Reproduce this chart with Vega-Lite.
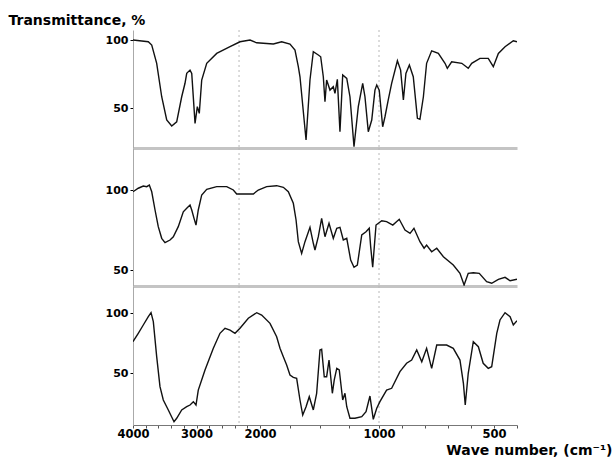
{
  "$schema": "https://vega.github.io/schema/vega-lite/v6.json",
  "padding": {"left": 8, "top": 13, "right": 2, "bottom": 2},
  "background": "white",
  "config": {"view": {"stroke": null}, "axis": {"grid": false}},
  "datasets": {
    "grid": [{"wn": 2330}, {"wn": 1000}],
    "s1": [
      {"wn": 4000, "t": 100}, {"wn": 3759, "t": 98.75}, {"wn": 3705, "t": 96.3}, {"wn": 3627, "t": 82.9}, {"wn": 3548, "t": 58.3}, {"wn": 3469, "t": 41.2}, {"wn": 3390, "t": 36.8}, {"wn": 3312, "t": 39.9}, {"wn": 3233, "t": 58.3}, {"wn": 3181, "t": 68.2}, {"wn": 3154, "t": 75.5}, {"wn": 3102, "t": 77.9}, {"wn": 3075, "t": 75.5}, {"wn": 3023, "t": 38.7}, {"wn": 2987, "t": 51.0}, {"wn": 2956, "t": 46.1}, {"wn": 2918, "t": 70.6}, {"wn": 2839, "t": 82.9}, {"wn": 2682, "t": 90.2}, {"wn": 2472, "t": 95.1}, {"wn": 2315, "t": 98.75}, {"wn": 2157, "t": 100}, {"wn": 2052, "t": 98.0},
      {"wn": 1888, "t": 97.1}, {"wn": 1818, "t": 98.75}, {"wn": 1748, "t": 97.1}, {"wn": 1706, "t": 92.6}, {"wn": 1678, "t": 80.4}, {"wn": 1664, "t": 73.0}, {"wn": 1613, "t": 26.5}, {"wn": 1580, "t": 70.6}, {"wn": 1552, "t": 91.4}, {"wn": 1510, "t": 89.0}, {"wn": 1490, "t": 87.7}, {"wn": 1468, "t": 73.0}, {"wn": 1454, "t": 54.6}, {"wn": 1440, "t": 70.6}, {"wn": 1412, "t": 63.2}, {"wn": 1384, "t": 65.7}, {"wn": 1370, "t": 60.8}, {"wn": 1350, "t": 71.1}, {"wn": 1328, "t": 32.6}, {"wn": 1305, "t": 74.3}, {"wn": 1271, "t": 71.8}, {"wn": 1244, "t": 58.3}, {"wn": 1210, "t": 21.5}, {"wn": 1174, "t": 51.0}, {"wn": 1137, "t": 68.2}, {"wn": 1118, "t": 58.3}, {"wn": 1090, "t": 32.6}, {"wn": 1061, "t": 41.2}, {"wn": 1034, "t": 63.2}, {"wn": 1019, "t": 66.9},
      {"wn": 999, "t": 63.2}, {"wn": 984, "t": 36.2}, {"wn": 974, "t": 43.6}, {"wn": 960, "t": 55.9}, {"wn": 945, "t": 68.2}, {"wn": 920, "t": 84.8}, {"wn": 906, "t": 77.9}, {"wn": 894, "t": 55.9}, {"wn": 883, "t": 75.5}, {"wn": 868, "t": 81.6}, {"wn": 851, "t": 73.0}, {"wn": 833, "t": 42.4}, {"wn": 822, "t": 41.7}, {"wn": 807, "t": 58.3}, {"wn": 793, "t": 82.9}, {"wn": 771, "t": 92.1}, {"wn": 742, "t": 90.2}, {"wn": 713, "t": 82.9}, {"wn": 703, "t": 79.2}, {"wn": 684, "t": 84.0}, {"wn": 640, "t": 82.9}, {"wn": 612, "t": 79.2}, {"wn": 597, "t": 82.9}, {"wn": 561, "t": 86.5}, {"wn": 525, "t": 86.5}, {"wn": 503, "t": 80.4}, {"wn": 481, "t": 90.2}, {"wn": 452, "t": 95.1}, {"wn": 416, "t": 99.5}, {"wn": 400, "t": 98.75}
    ],
    "s2": [
      {"wn": 4000, "t": 98.9}, {"wn": 3917, "t": 101.1}, {"wn": 3838, "t": 102.5}, {"wn": 3784, "t": 102.1}, {"wn": 3743, "t": 103.1}, {"wn": 3705, "t": 98.9}, {"wn": 3653, "t": 87.5}, {"wn": 3602, "t": 77.1}, {"wn": 3548, "t": 69.8}, {"wn": 3496, "t": 67.1}, {"wn": 3417, "t": 68.75}, {"wn": 3365, "t": 70.8}, {"wn": 3287, "t": 77.1}, {"wn": 3208, "t": 86.4}, {"wn": 3154, "t": 88.6}, {"wn": 3102, "t": 90.6}, {"wn": 3075, "t": 87.5}, {"wn": 3039, "t": 82.3}, {"wn": 3008, "t": 78.1}, {"wn": 2972, "t": 87.5}, {"wn": 2918, "t": 96.9}, {"wn": 2839, "t": 100.4}, {"wn": 2682, "t": 102.1}, {"wn": 2524, "t": 102.1}, {"wn": 2420, "t": 100}, {"wn": 2367, "t": 97.5}, {"wn": 2105, "t": 97.5}, {"wn": 2027, "t": 100},
      {"wn": 1944, "t": 102.1}, {"wn": 1860, "t": 102.7}, {"wn": 1804, "t": 101.7}, {"wn": 1762, "t": 98.9}, {"wn": 1720, "t": 91.7}, {"wn": 1697, "t": 81.25}, {"wn": 1678, "t": 67.7}, {"wn": 1650, "t": 60.4}, {"wn": 1622, "t": 67.7}, {"wn": 1580, "t": 76.7}, {"wn": 1552, "t": 66.7}, {"wn": 1538, "t": 62.5}, {"wn": 1510, "t": 70.8}, {"wn": 1482, "t": 82.3}, {"wn": 1454, "t": 70.8}, {"wn": 1420, "t": 79.2}, {"wn": 1384, "t": 69.8}, {"wn": 1355, "t": 76.1}, {"wn": 1328, "t": 76.7}, {"wn": 1300, "t": 68.75}, {"wn": 1271, "t": 69.8}, {"wn": 1238, "t": 56.25}, {"wn": 1210, "t": 51.7}, {"wn": 1182, "t": 53.1}, {"wn": 1145, "t": 71.9}, {"wn": 1109, "t": 73.9}, {"wn": 1082, "t": 76.1}, {"wn": 1070, "t": 64.6}, {"wn": 1053, "t": 51.7}, {"wn": 1025, "t": 78.1},
      {"wn": 988, "t": 80.8}, {"wn": 967, "t": 80.2}, {"wn": 940, "t": 78.1}, {"wn": 912, "t": 81.7}, {"wn": 887, "t": 75}, {"wn": 865, "t": 72.9}, {"wn": 848, "t": 76.1}, {"wn": 822, "t": 67.7}, {"wn": 804, "t": 63.6}, {"wn": 793, "t": 65.6}, {"wn": 771, "t": 61.4}, {"wn": 749, "t": 63.6}, {"wn": 720, "t": 58.3}, {"wn": 677, "t": 53.1}, {"wn": 648, "t": 47.9}, {"wn": 630, "t": 40.6}, {"wn": 612, "t": 47.9}, {"wn": 590, "t": 48.3}, {"wn": 564, "t": 47.9}, {"wn": 532, "t": 42.7}, {"wn": 510, "t": 41.7}, {"wn": 481, "t": 44.2}, {"wn": 452, "t": 45.4}, {"wn": 430, "t": 43.3}, {"wn": 400, "t": 44.2}
    ],
    "s3": [
      {"wn": 4000, "t": 76.1}, {"wn": 3917, "t": 83.1}, {"wn": 3838, "t": 90}, {"wn": 3759, "t": 96.9}, {"wn": 3716, "t": 100.25}, {"wn": 3680, "t": 92.75}, {"wn": 3627, "t": 63.6}, {"wn": 3575, "t": 38.6}, {"wn": 3523, "t": 27.5}, {"wn": 3444, "t": 19.2}, {"wn": 3354, "t": 9.4}, {"wn": 3312, "t": 12.25}, {"wn": 3233, "t": 19.2}, {"wn": 3154, "t": 21.9}, {"wn": 3102, "t": 23.3}, {"wn": 3050, "t": 26.1}, {"wn": 3008, "t": 23.3}, {"wn": 2972, "t": 35.8}, {"wn": 2866, "t": 52.5}, {"wn": 2735, "t": 70.6}, {"wn": 2630, "t": 83.1}, {"wn": 2551, "t": 87.25}, {"wn": 2472, "t": 85.8}, {"wn": 2394, "t": 83.1}, {"wn": 2315, "t": 87.25}, {"wn": 2184, "t": 95.6}, {"wn": 2052, "t": 100.25},
      {"wn": 1986, "t": 98.3}, {"wn": 1916, "t": 91.4}, {"wn": 1860, "t": 80.25}, {"wn": 1832, "t": 70.6}, {"wn": 1804, "t": 63.6}, {"wn": 1776, "t": 56.7}, {"wn": 1748, "t": 48.3}, {"wn": 1720, "t": 46.4}, {"wn": 1692, "t": 45.6}, {"wn": 1664, "t": 27.5}, {"wn": 1641, "t": 15}, {"wn": 1613, "t": 21.9}, {"wn": 1586, "t": 30.25}, {"wn": 1552, "t": 19.2}, {"wn": 1524, "t": 33.1}, {"wn": 1496, "t": 69.2}, {"wn": 1482, "t": 69.75}, {"wn": 1460, "t": 46.9}, {"wn": 1440, "t": 46.9}, {"wn": 1420, "t": 60.8}, {"wn": 1392, "t": 33.1}, {"wn": 1376, "t": 44.2}, {"wn": 1355, "t": 53.9}, {"wn": 1334, "t": 52.5}, {"wn": 1305, "t": 27.5}, {"wn": 1286, "t": 33.1}, {"wn": 1271, "t": 21.9}, {"wn": 1244, "t": 12.25}, {"wn": 1202, "t": 12.25}, {"wn": 1145, "t": 13.6}, {"wn": 1109, "t": 17.75}, {"wn": 1076, "t": 30.8}, {"wn": 1048, "t": 11.4}, {"wn": 1019, "t": 20.6},
      {"wn": 996, "t": 26.1}, {"wn": 967, "t": 35.8}, {"wn": 945, "t": 37.25}, {"wn": 909, "t": 51.1}, {"wn": 880, "t": 58.1}, {"wn": 858, "t": 60.8}, {"wn": 836, "t": 69.2}, {"wn": 814, "t": 59.4}, {"wn": 793, "t": 70.6}, {"wn": 771, "t": 53.9}, {"wn": 749, "t": 73.3}, {"wn": 706, "t": 73.3}, {"wn": 677, "t": 70.6}, {"wn": 648, "t": 60.8}, {"wn": 633, "t": 41.4}, {"wn": 625, "t": 23.3}, {"wn": 612, "t": 49.75}, {"wn": 590, "t": 76.1}, {"wn": 568, "t": 71.9}, {"wn": 547, "t": 58.1}, {"wn": 525, "t": 53.9}, {"wn": 510, "t": 55.25}, {"wn": 488, "t": 83.1}, {"wn": 474, "t": 94.2}, {"wn": 452, "t": 100.25}, {"wn": 430, "t": 96.9}, {"wn": 416, "t": 90}, {"wn": 400, "t": 93.6}
    ]
  },
  "vconcat": [
    {
      "width": 384, "height": 118,
      "layer": [
        {"data": {"name": "grid"}, "mark": {"type": "rule", "color": "#b8b8b8", "strokeDash": [2, 3], "strokeWidth": 1},
         "encoding": {"x": {"field": "wn", "type": "quantitative", "scale": {"domain": [400, 1000, 2000, 4000], "range": [384, 246, 127, 0]}}}},
        {"data": {"name": "s1"}, "mark": {"type": "line", "color": "#111", "strokeWidth": 1.4, "clip": true},
         "encoding": {
           "x": {"field": "wn", "type": "quantitative", "scale": {"domain": [400, 1000, 2000, 4000], "range": [384, 246, 127, 0]},
                 "axis": {"title": null, "labels": false, "ticks": false, "domainColor": "#c4c4c4", "domainWidth": 3}},
           "y": {"field": "t", "type": "quantitative", "scale": {"domain": [20.6, 107.4], "nice": false, "zero": false},
                 "axis": {"values": [50, 100], "tickCount": 50, "tickSize": 3, "tickColor": "#000", "domainColor": "#aaa", "labelFont": "DejaVu Sans", "labelFontSize": 11, "labelFontWeight": "bold", "labelColor": "#000", "labelPadding": 2,
                          "title": "Transmittance, %", "titleAngle": 0, "titleAlign": "left", "titleBaseline": "alphabetic", "titleX": -125, "titleY": -6, "titleFont": "DejaVu Sans", "titleFontSize": 14, "titleFontWeight": "bold", "titleColor": "#000"}}
         }}
      ]
    },
    {
      "width": 384, "height": 138,
      "layer": [
        {"data": {"name": "grid"}, "mark": {"type": "rule", "color": "#b8b8b8", "strokeDash": [2, 3], "strokeWidth": 1},
         "encoding": {"x": {"field": "wn", "type": "quantitative", "scale": {"domain": [400, 1000, 2000, 4000], "range": [384, 246, 127, 0]}}}},
        {"data": {"name": "s2"}, "mark": {"type": "line", "color": "#111", "strokeWidth": 1.4, "clip": true},
         "encoding": {
           "x": {"field": "wn", "type": "quantitative", "scale": {"domain": [400, 1000, 2000, 4000], "range": [384, 246, 127, 0]},
                 "axis": {"title": null, "labels": false, "ticks": false, "domainColor": "#c4c4c4", "domainWidth": 3}},
           "y": {"field": "t", "type": "quantitative", "scale": {"domain": [40, 126.25], "nice": false, "zero": false},
                 "axis": {"values": [50, 100], "tickCount": 50, "tickSize": 3, "tickColor": "#000", "domainColor": "#aaa", "labelFont": "DejaVu Sans", "labelFontSize": 11, "labelFontWeight": "bold", "labelColor": "#000", "labelPadding": 2, "title": null}}
         }}
      ]
    },
    {
      "width": 384, "height": 139,
      "layer": [
        {"data": {"name": "grid"}, "mark": {"type": "rule", "color": "#b8b8b8", "strokeDash": [2, 3], "strokeWidth": 1},
         "encoding": {"x": {"field": "wn", "type": "quantitative", "scale": {"domain": [400, 1000, 2000, 4000], "range": [384, 246, 127, 0]}}}},
        {"data": {"name": "s3"}, "mark": {"type": "line", "color": "#111", "strokeWidth": 1.4, "clip": true},
         "encoding": {
           "x": {"field": "wn", "type": "quantitative", "scale": {"domain": [400, 1000, 2000, 4000], "range": [384, 246, 127, 0]},
                 "axis": {"values": [4000, 3800, 3600, 3400, 3200, 3000, 2800, 2600, 2400, 2200, 2000, 1750, 1500, 1250, 1000, 900, 800, 700, 600, 500, 400],
                          "tickCount": 100,
                          "labelExpr": "(datum.value == 4000 || datum.value == 3000 || datum.value == 2000 || datum.value == 1000 || datum.value == 500) ? datum.label : ''",
                          "format": "d", "labelOverlap": false, "labelFlush": false, "tickSize": 3, "tickColor": "#555", "domainColor": "#777", "labelFont": "DejaVu Sans", "labelFontSize": 11.5, "labelFontWeight": "bold", "labelColor": "#000", "labelPadding": 0,
                          "title": "Wave number, (cm⁻¹)", "titleAlign": "right", "titleBaseline": "alphabetic", "titleX": 479, "titleY": 29, "titleFont": "DejaVu Sans", "titleFontSize": 14, "titleFontWeight": "bold", "titleColor": "#000"}},
           "y": {"field": "t", "type": "quantitative", "scale": {"domain": [6.67, 122.5], "nice": false, "zero": false},
                 "axis": {"values": [50, 100], "tickCount": 50, "tickSize": 3, "tickColor": "#000", "domainColor": "#aaa", "labelFont": "DejaVu Sans", "labelFontSize": 11, "labelFontWeight": "bold", "labelColor": "#000", "labelPadding": 2, "title": null}}
         }}
      ]
    }
  ],
  "spacing": 0,
  "bounds": "flush",
  "resolve": {"scale": {"y": "independent"}}
}
